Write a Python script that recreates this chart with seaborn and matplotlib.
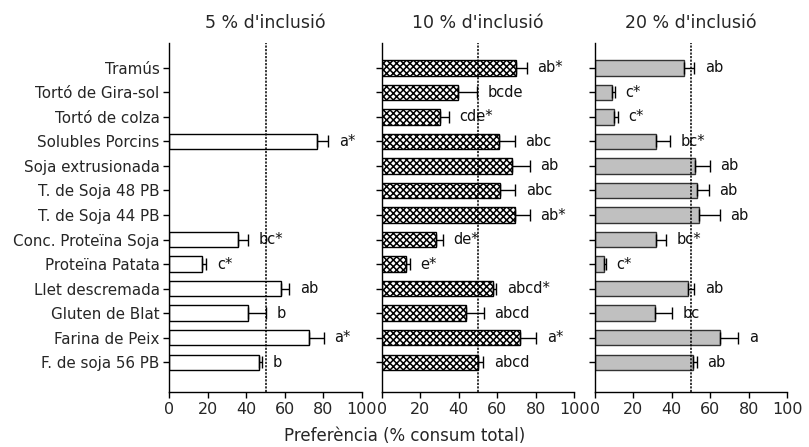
import matplotlib
matplotlib.use("Agg")
import matplotlib.pyplot as plt
import numpy as np
import pandas as pd
import seaborn as sns

# Ingredients (de dalt a baix)
ingredients = ["Tramús", "Tortó de Gira-sol", "Tortó de colza", "Solubles Porcins",
               "Soja extrusionada", "T. de Soja 48 PB", "T. de Soja 44 PB",
               "Conc. Proteïna Soja", "Proteïna Patata", "Llet descremada",
               "Gluten de Blat", "Farina de Peix", "F. de soja 56 PB"]

nan = np.nan
# 5 % d'inclusió
pref_5 = [nan, nan, nan, 76.4, nan, nan, nan, 35.4, 16.7, 57.7, 40.6, 72.4, 46.7]
err_5 = [nan, nan, nan, 6.0, nan, nan, nan, 5.2, 2.4, 4.5, 9.4, 7.8, 1.4]
lett_5 = ["", "", "", "a*", "", "", "", "bc*", "c*", "ab", "b", "a*", "b"]

# 10 % d'inclusió
pref_10 = [69.9, 39.7, 30.2, 60.8, 67.9, 61.6, 69.1, 28.1, 12.6, 57.8, 44.0, 72.0, 49.8]
err_10 = [5.5, 9.8, 4.8, 8.3, 9.0, 7.8, 7.7, 3.8, 2.1, 1.8, 9.0, 8.3, 3.0]
lett_10 = ["ab*", "bcde", "cde*", "abc", "ab", "abc", "ab*", "de*", "e*", "abcd*",
           "abcd", "a*", "abcd"]

# 20 % d'inclusió
pref_20 = [46.3, 8.9, 10.2, 31.8, 52.0, 53.4, 54.4, 32.1, 5.1, 48.5, 31.5, 65.3, 51.0]
err_20 = [5.4, 1.7, 2.0, 7.2, 7.9, 6.0, 10.6, 4.8, 0.7, 3.2, 8.5, 9.2, 2.0]
lett_20 = ["ab", "c*", "c*", "bc*", "ab", "ab", "ab", "bc*", "c*", "ab", "bc", "a", "ab"]

titols = ["5 % d'inclusió", "10 % d'inclusió", "20 % d'inclusió"]
xticks = [0, 20, 40, 60, 80, 100]

sns.set_theme(style="white")
plt.rcParams['font.family'] = ['DejaVu Sans']
plt.rcParams['hatch.linewidth'] = 1.1

fig = plt.figure(figsize=(8.09, 4.47), dpi=100)
lefts = [0.2094, 0.4718, 0.7350]
axes = [fig.add_axes([l, 0.123, 0.238, 0.781]) for l in lefts]

panels = [(pref_5, err_5, lett_5), (pref_10, err_10, lett_10), (pref_20, err_20, lett_20)]
estils = [dict(color="white", edgecolor="black", hatch=None),
          dict(color="white", edgecolor="black", hatch="xxxxx"),
          dict(color="#c0c0c0", edgecolor="#333333", hatch=None)]

for i, (ax, (vals, errs, letts)) in enumerate(zip(axes, panels)):
    df = pd.DataFrame({"ingredient": ingredients, "pref": vals, "err": errs, "lletra": letts})
    st = estils[i]
    sns.barplot(data=df.dropna(), x="pref", y="ingredient", order=ingredients, orient="h",
                color=st["color"], edgecolor=st["edgecolor"], linewidth=1.0,
                width=0.62, saturation=1, errorbar=None, ax=ax)
    if st["hatch"]:
        for p in ax.patches:
            p.set_hatch(st["hatch"])
    pos = np.arange(len(ingredients))
    v = np.array(vals)
    e = np.array(errs)
    ok = ~np.isnan(v)
    ax.errorbar(v[ok], pos[ok], xerr=[np.zeros(ok.sum()), e[ok]], fmt="none",
                ecolor="black", elinewidth=1.0, capsize=4, capthick=1.0)
    for y, (val, er, lt) in enumerate(zip(vals, errs, letts)):
        if lt:
            ax.text(val + er + 5.5, y, lt, ha="left", va="center", fontsize=10.5,
                    color="#111111")
    ax.axvline(50, color="black", linestyle=(0, (1.4, 0.9)), linewidth=1.1, zorder=5)
    ax.set_xlim(0, 100)
    ax.set_ylim(13.22, -1.02)
    ax.set_xticks(xticks)
    ax.set_xticklabels([str(t) for t in xticks], fontsize=11.5)
    ax.set_xlabel("")
    ax.set_ylabel("")
    ax.set_title(titols[i], fontsize=12.5, pad=11)
    for s in ["top", "right"]:
        ax.spines[s].set_visible(False)
    for s in ["left", "bottom"]:
        ax.spines[s].set_color("black")
        ax.spines[s].set_linewidth(1.0)
    ax.tick_params(axis="both", which="both", direction="out", length=4, width=1.0,
                   color="black", left=True, bottom=True, pad=3)
    ax.set_yticks(pos)
    if i == 0:
        ax.set_yticklabels(ingredients, fontsize=10.9)
    else:
        ax.set_yticklabels([])

fig.text(0.5, 0.005, "Preferència (% consum total)", ha="center", va="bottom", fontsize=12)

fig.savefig("out.png", dpi=100)
